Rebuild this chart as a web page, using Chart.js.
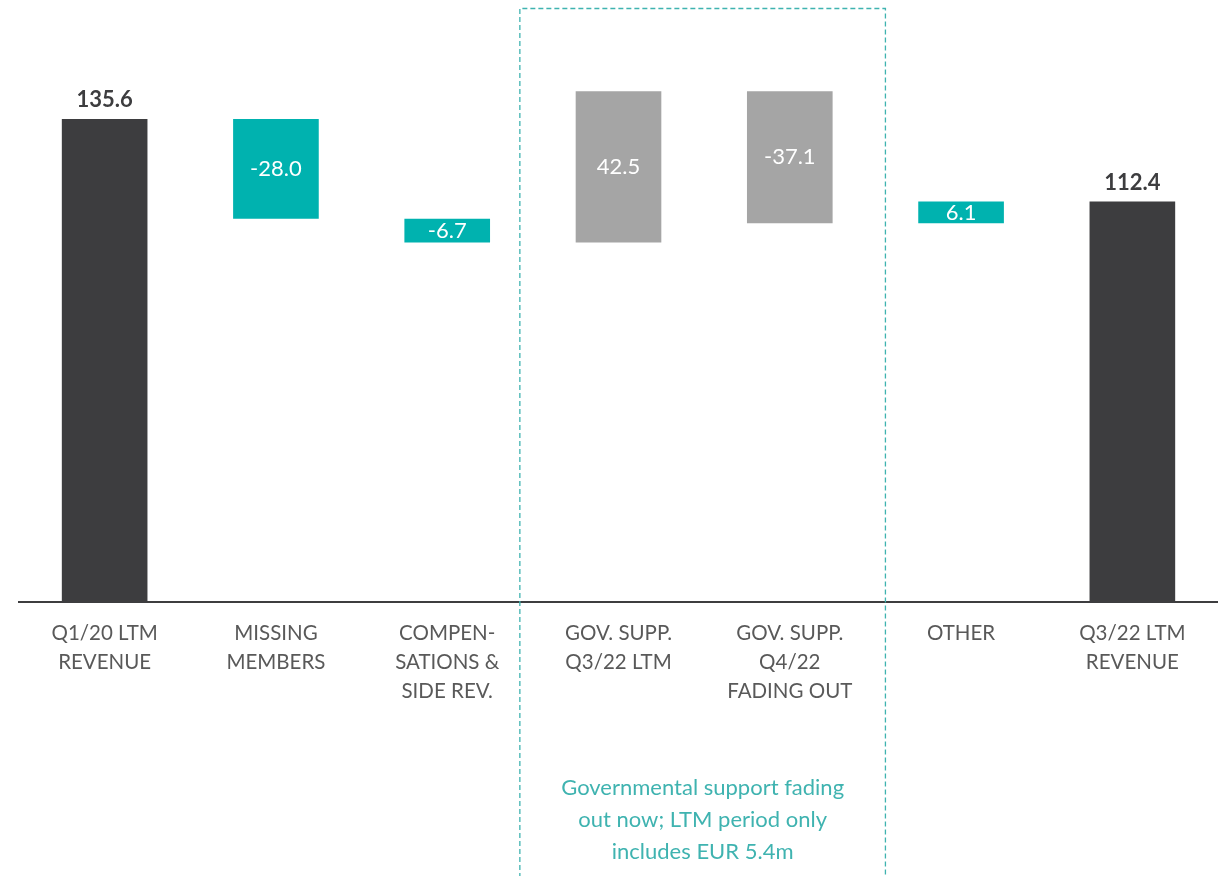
<!DOCTYPE html>
<html>
<head>
<meta charset="utf-8">
<script src="https://cdn.jsdelivr.net/npm/chart.js@4.4.1/dist/chart.umd.min.js"></script>
<style>
  html, body { margin: 0; padding: 0; background: #fff; }
  #wrap { width: 1218px; height: 876px; }
</style>
</head>
<body>
<div id="wrap"><canvas id="bridgeChart" width="1218" height="876"></canvas></div>
<script>
// Revenue bridge Q1/20 LTM -> Q3/22 LTM (EUR m)
const categories = [
    ["Q1/20 LTM", "REVENUE"],
    ["MISSING", "MEMBERS"],
    ["COMPEN-", "SATIONS &", "SIDE REV."],
    ["GOV. SUPP.", "Q3/22 LTM"],
    ["GOV. SUPP.", "Q4/22", "FADING OUT"],
    ["OTHER"],
    ["Q3/22 LTM", "REVENUE"]
];
const startValue = 135.6;
const steps = [-28.0, -6.7, 42.5, -37.1, 6.1];
const endValue = 112.4;
const kinds = ["total", "core", "core", "gov", "gov", "core", "total"];
const noteLines = ["Governmental support fading", "out now; LTM period only", "includes EUR 5.4m"];

const kindColors = { total: "#3d3d3f", core: "#00b2af", gov: "#a5a5a5" };
const teal = "#3fb3b0";

// floating [from, to] ranges for every bar
const ranges = [[0, startValue]];
const labels = [startValue];
let level = startValue;
steps.forEach(s => {
    ranges.push([level, level + s]);
    labels.push(s);
    level += s;
});
ranges.push([0, endValue]);
labels.push(endValue);

const overlay = {
    id: "overlay",
    afterDatasetsDraw(chart) {
        const { ctx } = chart;
        const meta = chart.getDatasetMeta(0);
        ctx.save();
        ctx.textAlign = "center";
        ctx.textBaseline = "middle";
        meta.data.forEach((bar, i) => {
            const txt = labels[i].toFixed(1);
            if (kinds[i] === "total") {
                ctx.font = "bold 22px Lato";
                ctx.fillStyle = "#3d3d3f";
                ctx.fillText(txt, bar.x, Math.min(bar.y, bar.base) - 19);
            } else {
                ctx.font = "22px Lato";
                ctx.fillStyle = "#ffffff";
                ctx.fillText(txt, bar.x, (bar.y + bar.base) / 2);
            }
        });

        // dashed frame around the government support columns
        const x = chart.scales.x;
        const half = (x.getPixelForValue(1) - x.getPixelForValue(0)) / 2;
        const left = x.getPixelForValue(3) - half - 13;
        const right = x.getPixelForValue(4) + half + 10;
        ctx.strokeStyle = teal;
        ctx.lineWidth = 1.3;
        ctx.setLineDash([5, 3]);
        ctx.beginPath();
        ctx.moveTo(left, chart.height + 2);
        ctx.lineTo(left, 8.5);
        ctx.lineTo(right, 8.5);
        ctx.lineTo(right, chart.height + 2);
        ctx.stroke();
        ctx.setLineDash([]);

        ctx.font = "22px Lato";
        ctx.fillStyle = teal;
        const cx = (left + right) / 2;
        noteLines.forEach((line, j) => ctx.fillText(line, cx, 788 + j * 32));
        ctx.restore();
    }
};

new Chart(document.getElementById("bridgeChart"), {
    type: "bar",
    data: {
        labels: categories,
        datasets: [{
            data: ranges,
            backgroundColor: kinds.map(k => kindColors[k]),
            barPercentage: 0.5,
            categoryPercentage: 1.0,
            borderSkipped: false
        }]
    },
    options: {
        responsive: false,
        animation: false,
        layout: { padding: { left: 19, right: 0, top: 0, bottom: 0 } },
        plugins: {
            legend: { display: false },
            tooltip: { enabled: false }
        },
        scales: {
            x: {
                grid: { display: false, drawTicks: false },
                border: { display: true, color: "#3d3d3f", width: 2 },
                ticks: {
                    color: "#595959",
                    font: { family: "Lato", size: 20.5, lineHeight: 1.42 },
                    padding: 17,
                    maxRotation: 0,
                    autoSkip: false
                },
                afterFit(scale) { scale.height = 274; }
            },
            y: {
                display: false,
                min: 0,
                max: 169
            }
        }
    },
    plugins: [overlay]
});
</script>
</body>
</html>
